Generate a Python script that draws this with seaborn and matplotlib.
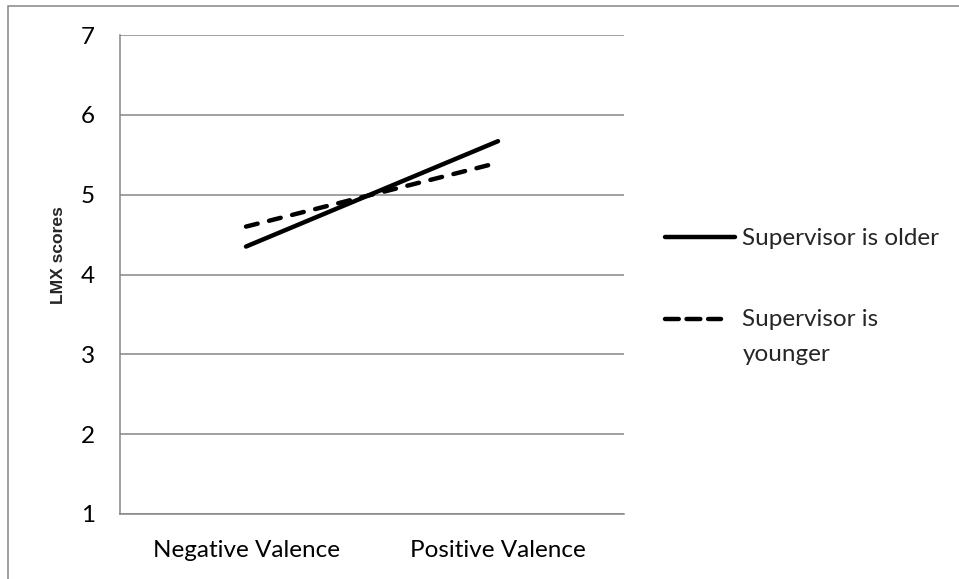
import matplotlib
matplotlib.use("Agg")
import matplotlib.pyplot as plt
import pandas as pd
import seaborn as sns
from matplotlib.patches import Rectangle

# valores
valence = ["Negative Valence", "Positive Valence"]
older = [4.35, 5.67]
younger = [4.6, 5.4]
groups = ["Supervisor is older", "Supervisor is\nyounger"]
y_ticks = [1, 2, 3, 4, 5, 6, 7]

df = pd.DataFrame({
    "Valence": valence * 2,
    "LMX": older + younger,
    "Group": [groups[0]] * 2 + [groups[1]] * 2,
})

sns.set_theme(style="white")
plt.rcParams["font.family"] = ["Lato", "DejaVu Sans"]
grid_color = "#868686"
fs = 17.5

fig = plt.figure(figsize=(9.59, 5.79), dpi=100)
ax = fig.add_axes([120 / 959, 1 - 514 / 579, 504 / 959, 479 / 579])

sns.lineplot(data=df, x="Valence", y="LMX", hue="Group", style="Group",
             palette=["black", "black"],
             dashes={groups[0]: "", groups[1]: (2.7, 2.65)},
             linewidth=3.2, legend=False, ax=ax)
for line in ax.get_lines():
    line.set_solid_capstyle("round")
    line.set_dash_capstyle("round")

ax.set_xlim(-0.5, 1.5)
ax.set_ylim(1, 7)
ax.set_yticks(y_ticks)
ax.yaxis.grid(True, color=grid_color, linewidth=1.1)
ax.set_axisbelow(True)
for side in ["top", "right"]:
    ax.spines[side].set_visible(False)
for side in ["left", "bottom"]:
    ax.spines[side].set_color(grid_color)
    ax.spines[side].set_linewidth(1.1)
ax.tick_params(axis="y", length=0, pad=18, labelsize=fs, colors="black")
ax.tick_params(axis="x", length=0, pad=19, labelsize=fs, colors="black")
ax.set_xlabel("")
ax.set_ylabel("LMX scores", fontsize=12.6, fontweight="bold",
              family=["Liberation Sans", "DejaVu Sans"])
ax.yaxis.set_label_coords(-0.108, 0.541)

# legenda à direita
leg = ax.legend(ax.get_lines(), groups, loc="upper left",
                bbox_to_anchor=(665 / 959, 1 - 228 / 579),
                bbox_transform=fig.transFigure, frameon=False,
                fontsize=fs, handlelength=2.88, handletextpad=0.3,
                borderpad=0, borderaxespad=0, labelspacing=2.48)
for t in leg.get_texts():
    t.set_linespacing(1.8)
# traço da legenda: três segmentos, alinhado com a primeira linha do texto
h2 = leg.legend_handles[1]
h2.set_dashes((3.1, 1.75))
x0 = h2.get_xdata()[0]
y0 = h2.get_ydata()[0] + 13
h2.set_data([x0, x0 + 40.5], [y0, y0])

# moldura externa do gráfico
fig.add_artist(Rectangle((8 / 959, -0.1), 1.0, 1.1 - 6 / 579,
                         transform=fig.transFigure, fill=False,
                         edgecolor=grid_color, linewidth=1.1))

fig.savefig("out.png", dpi=100)
